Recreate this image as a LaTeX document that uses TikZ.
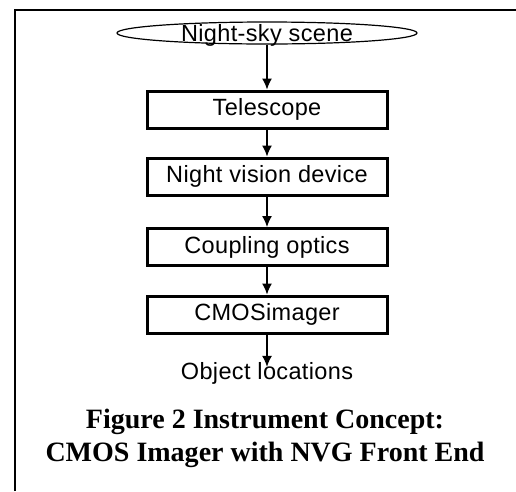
\documentclass[tikz,border=0pt]{standalone}
\usepackage{fontspec}
\setmainfont{Liberation Serif}
\setsansfont{Liberation Sans}[LetterSpace=1.5]
\usetikzlibrary{arrows.meta,shapes.geometric}
\tikzset{
	stage/.style={draw,line width=3pt,minimum width=240pt,minimum height=37pt,inner sep=0pt,font=\sffamily\fontsize{23.5}{25}\selectfont},
	plain/.style={inner sep=0pt,font=\sffamily\fontsize{23.5}{25}\selectfont},
}
\begin{document}
\begin{tikzpicture}[x=1pt,y=1pt,>={Latex[length=11pt,width=10pt]}]
		\useasboundingbox (0,0) rectangle (516,-491);
		\draw[line width=2pt](15,-491)--(15,-9.5)--(516,-9.5);
		\node[ellipse,draw,line width=1.2pt,minimum width=300pt,minimum height=22pt,inner sep=0pt](sky) at (267,-33){};
		\node[plain,yshift=-2pt](skytext) at (sky){Night-sky scene};
		\node[stage](tele) at (267,-109.5){Telescope};
		\node[stage](nvd) at (267,-176.5){Night vision device};
		\node[stage](coup) at (267,-247){Coupling optics};
		\node[stage](cmos) at (267,-314.5){CMOSimager};
		\node[plain](obj) at (267,-373){Object locations};
		\node[align=center,inner sep=0pt,font=\bfseries\fontsize{28}{33}\selectfont](cap) at (265,-438){Figure 2 Instrument Concept:\\CMOS Imager with NVG Front End};
		\draw[->,line width=1.3pt](sky)--(tele);
		\draw[->,line width=1.3pt](tele)--(nvd);
		\draw[->,line width=1.3pt](nvd)--(coup);
		\draw[->,line width=1.3pt](coup)--(cmos);
		\draw[->,line width=1.3pt](cmos)--([yshift=-5pt]obj.north);
	\end{tikzpicture}
\end{document}
